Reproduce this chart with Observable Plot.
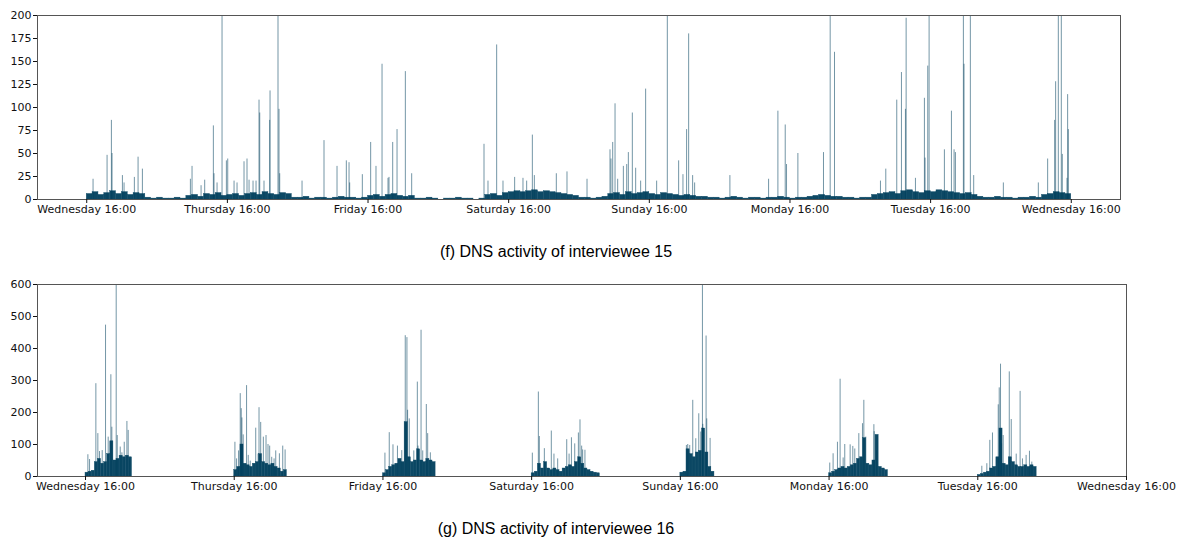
<!DOCTYPE html>
<html><head><meta charset="utf-8">
<script src="https://cdn.jsdelivr.net/npm/d3@7"></script>
<script src="https://cdn.jsdelivr.net/npm/@observablehq/plot@0.6"></script>
<style>
body{margin:0;background:#fff;}
#wrap{position:relative;width:1183px;height:542px;overflow:hidden;background:#fff;}
.panel{position:absolute;left:0;}
.cap{position:absolute;left:0;width:1112px;text-align:center;font-family:"Liberation Sans",Arial,sans-serif;font-size:16px;color:#000;}
</style></head><body>
<div id="wrap">
<div id="f" class="panel" style="top:0"></div>
<div class="cap" style="top:243px">(f) DNS activity of interviewee 15</div>
<div id="g" class="panel" style="top:270px"></div>
<div class="cap" style="top:520px">(g) DNS activity of interviewee 16</div>
</div>
<script>
// ---- shared tick data (hours after Wednesday 16:00) ----
const dayTicks = [0, 24, 48, 72, 96, 120, 144, 168];
const dayLabels = ["Wednesday 16:00", "Thursday 16:00", "Friday 16:00", "Saturday 16:00",
                   "Sunday 16:00", "Monday 16:00", "Tuesday 16:00", "Wednesday 16:00"];
const fYTicks = [0, 25, 50, 75, 100, 125, 150, 175, 200];
const gYTicks = [0, 100, 200, 300, 400, 500, 600];

// ---- (f) interviewee 15: individual bursts (hour offset, DNS requests) ----
const fSpikeHours = [1.08,3.47,4.21,4.32,6.09,6.37,8.13,8.76,9.50,17.69,17.97,19.51,20.13,21.61,21.72,22.24,23.09,23.83,24.06,25.14,25.65,26.84,27.35,27.70,28.38,28.89,29.40,29.52,30.25,31.22,31.28,32.64,32.81,32.93,36.74,40.49,42.71,44.30,44.76,44.87,47.03,48.45,49.36,50.39,51.41,51.58,52.21,52.95,54.37,55.45,67.79,68.47,69.95,71.03,73.02,74.44,75.07,76.04,76.38,80.13,81.95,
85.37,89.29,89.46,89.75,90.15,90.60,91.57,92.14,92.42,93.10,93.67,94.52,95.37,97.25,99.07,101.00,101.74,102.36,102.71,103.39,103.73,109.75,116.35,117.94,119.19,119.41,121.35,125.72,126.86,127.60,135.44,136.35,138.22,139.02,139.70,139.82,141.41,142.94,143.05,143.51,143.74,146.35,147.55,148.00,148.23,149.59,149.70,150.78,151.35,156.41,162.38,163.97,165.16,165.33,165.79,166.30,166.47,167.27,167.38,167.50];
const fSpikeCounts = [22,48,86,50,26,18,24,46,33,22,36,15,21,80,28,18,260,42,44,20,18,41,44,21,20,20,108,94,20,86,118,250,98,28,20,64,36,42,40,18,27,62,36,147,23,24,62,76,139,28,60,20,168,20,24,23,20,70,26,28,30,
22,54,44,62,104,22,36,38,51,94,34,20,120,20,240,42,27,76,180,26,18,26,22,96,81,38,50,51,240,160,20,33,108,138,98,197,23,110,45,145,250,54,96,54,51,260,147,240,26,18,18,44,86,128,260,250,49,23,114,76];
// hourly background level of small requests, hour 0..167
const fBaseCounts = [6,8,5,7,9,6,8,5,7,6, 2,1,2,1,1,2,1, 4,5,3,6,5,7,4, 5,6,4,6,7,5,8,6,5,7,6,
  2,2,3,1,2,2,1,2,3,2,2,1,2, 4,5,3,5,6,4,3,4, 1,1,2,1,0,1,1,2,1,1,0,1,
  5,6,4,7,8,9,8,9,10,8,9,8,7,6,5,4, 2,2,1,2,3, 6,7,5,8,6,7,8,6,5,7,6,5,4,5,4,3,3,
  2,2,1,2,3,2,1,2,2,1,2,2,3,2,1,2,2,3, 4,5,4,3,3, 2,2,1,2,2,
  5,6,7,8,6,9,10,8,7,9,8,10,9,8,7,6,7,5, 3,2,2,3,2,2,1,2,2,3,2, 5,6,8,7,6];

// ---- (g) interviewee 16 ----
const gSpikeHours = [0.38,0.65,1.67,1.99,2.26,2.69,3.23,3.66,4.09,4.25,4.95,5.12,5.60,5.87,6.25,6.68,6.89,7.11,
  24.11,24.38,24.70,24.97,25.13,25.24,25.45,25.99,26.26,26.58,27.47,27.85,28.00,28.27,28.70,29.13,29.45,29.72,30.05,30.43,30.70,31.29,31.83,32.21,
  48.32,49.02,49.62,50.34,51.04,51.60,51.87,51.98,52.25,52.98,53.55,53.66,54.15,54.42,55.00,55.22,55.65,
  72.11,73.08,73.24,74.05,75.17,75.60,76.20,77.66,78.04,78.42,78.95,79.54,79.80,80.07,80.23,80.60,
  96.97,97.19,97.51,98.00,98.49,98.97,99.29,99.56,99.62,100.15,100.26,100.42,100.80,
  120.11,120.65,121.35,121.78,122.27,122.53,123.40,123.83,124.15,124.80,125.39,125.61,125.93,127.23,127.28,127.66,
  144.65,145.46,145.94,146.37,147.30,147.46,147.67,147.84,148.10,149.08,149.40,150.20,150.83,151.21,151.80,152.34,152.72];
const gSpikeCounts = [68,53,290,134,78,81,473,123,318,154,620,128,92,74,107,172,144,55,
  107,55,80,259,212,183,130,284,66,48,151,70,215,169,123,128,100,95,60,55,80,71,95,83,
  73,137,99,95,81,440,434,207,180,80,295,95,457,80,225,134,74,
  73,264,125,87,142,70,55,115,70,121,102,136,177,95,83,82,
  97,100,97,238,118,196,139,620,163,439,180,76,119,
  42,71,107,304,58,100,99,94,86,134,165,238,123,162,140,80,
  32,40,113,136,224,277,351,102,128,327,178,70,266,55,66,79,45];
// dense half-hourly activity level in each evening session (starting 16:00)
const gSessionStarts = [0, 24, 48, 72, 96, 120, 144];
const gBaseWed = [12,15,18,45,55,40,45,70,110,50,55,65,60,65,60];
const gBaseThu = [20,30,100,40,35,30,40,45,70,45,40,35,40,30,25,15,20];
const gBaseFri = [10,20,30,35,40,55,45,170,60,45,50,85,50,45,55,50,45];
const gBaseSat = [10,15,40,25,45,25,20,25,20,15,25,30,35,30,45,60,40,25,20,15,12,10];
const gBaseSun = [12,15,85,70,60,75,80,150,75,30,15];
const gBaseMon = [10,15,20,25,30,25,30,35,40,55,60,120,40,35,50,130,30,25,20];
const gBaseTue = [5,8,12,15,25,30,60,150,40,35,60,45,35,30,30,35,30,35,30];

const C = "#003f5c";
const CB = "#0d4965";
const fmt = d => dayLabels[dayTicks.indexOf(d)];
const style = {fontFamily: "'DejaVu Sans', sans-serif", fontSize: "11px", color: "#111", background: "white"};

// tables
const fSpikes = fSpikeHours.map((h, i) => ({h, v: fSpikeCounts[i]}));
const fBase = fBaseCounts.map((v, i) => ({h: i, h2: i + 1, v}));
const gSpikes = gSpikeHours.map((h, i) => ({h, v: gSpikeCounts[i]}));
const gBase = [];
[gBaseWed, gBaseThu, gBaseFri, gBaseSat, gBaseSun, gBaseMon, gBaseTue].forEach((arr, k) => {
  arr.forEach((v, j) => gBase.push({h: gSessionStarts[k] + j * 0.5, h2: gSessionStarts[k] + j * 0.5 + 0.5, v}));
});

function panel(base, spikes, opts) {
  return Plot.plot({
    width: 1183, height: opts.height,
    marginTop: opts.mt, marginBottom: opts.mb, marginLeft: 37, marginRight: opts.mr,
    style,
    x: {domain: opts.xdom},
    y: {domain: opts.ydom},
    marks: [
      Plot.rect(base, {x1: "h", x2: "h2", y1: 0, y2: "v", fill: CB, stroke: CB, strokeWidth: 0.4, clip: true}),
      Plot.ruleX(spikes, {x: "h", y1: 0, y2: "v", stroke: C, strokeOpacity: 0.55, strokeWidth: 1, clip: true}),
      Plot.frame({stroke: "#555", strokeWidth: 1}),
      Plot.axisX({ticks: dayTicks, tickFormat: fmt, tickSize: 4, tickPadding: 2, label: null}),
      Plot.axisY({ticks: opts.yticks, tickSize: 4, tickPadding: 2, label: null})
    ]
  });
}

document.getElementById("f").appendChild(panel(fBase, fSpikes, {
  height: 222, mt: 15, mb: 23, mr: 63, xdom: [-8.4, 176.4], ydom: [0, 200], yticks: fYTicks
}));
document.getElementById("g").appendChild(panel(gBase, gSpikes, {
  height: 230, mt: 14, mb: 24, mr: 57, xdom: [-7.75, 168], ydom: [0, 600], yticks: gYTicks
}));
</script>
</body></html>
